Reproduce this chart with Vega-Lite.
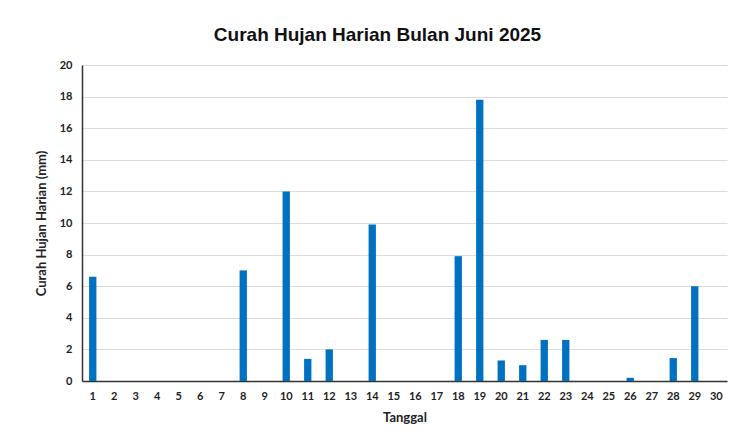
{
  "$schema": "https://vega.github.io/schema/vega-lite/v6.json",
  "autosize": {"type": "none"},
  "width": 645,
  "height": 316,
  "padding": {"left": 82, "top": 65, "right": 5, "bottom": 58},
  "background": "white",
  "title": {
    "text": "Curah Hujan Harian Bulan Juni 2025",
    "font": "Liberation Sans",
    "fontSize": 19,
    "fontWeight": "bold",
    "color": "#111111",
    "anchor": "middle",
    "dx": -27,
    "offset": 14
  },
  "data": {
    "values": [
      {"tanggal": 1, "hujan": 6.6},
      {"tanggal": 2, "hujan": 0},
      {"tanggal": 3, "hujan": 0},
      {"tanggal": 4, "hujan": 0},
      {"tanggal": 5, "hujan": 0},
      {"tanggal": 6, "hujan": 0},
      {"tanggal": 7, "hujan": 0},
      {"tanggal": 8, "hujan": 7.0},
      {"tanggal": 9, "hujan": 0},
      {"tanggal": 10, "hujan": 12.0},
      {"tanggal": 11, "hujan": 1.4},
      {"tanggal": 12, "hujan": 2.0},
      {"tanggal": 13, "hujan": 0},
      {"tanggal": 14, "hujan": 9.9},
      {"tanggal": 15, "hujan": 0},
      {"tanggal": 16, "hujan": 0},
      {"tanggal": 17, "hujan": 0},
      {"tanggal": 18, "hujan": 7.9},
      {"tanggal": 19, "hujan": 17.8},
      {"tanggal": 20, "hujan": 1.3},
      {"tanggal": 21, "hujan": 1.0},
      {"tanggal": 22, "hujan": 2.6},
      {"tanggal": 23, "hujan": 2.6},
      {"tanggal": 24, "hujan": 0},
      {"tanggal": 25, "hujan": 0},
      {"tanggal": 26, "hujan": 0.2},
      {"tanggal": 27, "hujan": 0},
      {"tanggal": 28, "hujan": 1.45},
      {"tanggal": 29, "hujan": 6.0},
      {"tanggal": 30, "hujan": 0}
    ]
  },
  "mark": {"type": "bar", "color": "#0070C0"},
  "encoding": {
    "x": {
      "field": "tanggal",
      "type": "ordinal",
      "scale": {"paddingInner": 0.66, "paddingOuter": 0.33},
      "axis": {
        "title": "Tanggal",
        "labelAngle": 0,
        "labelFont": "Lato",
        "labelFontSize": 11,
        "labelFontWeight": "bold",
        "labelColor": "#222222",
        "labelPadding": 9,
        "ticks": false,
        "domainColor": "#333333",
        "domainWidth": 1.5,
        "titleFont": "Lato",
        "titleFontSize": 13,
        "titleFontWeight": "bold",
        "titleColor": "#222222",
        "titlePadding": 10,
        "grid": false
      }
    },
    "y": {
      "field": "hujan",
      "type": "quantitative",
      "scale": {"domain": [0, 20]},
      "axis": {
        "title": "Curah Hujan Harian (mm)",
        "values": [0, 2, 4, 6, 8, 10, 12, 14, 16, 18, 20],
        "labelFont": "Lato",
        "labelFontSize": 11,
        "labelFontWeight": "bold",
        "labelColor": "#222222",
        "labelPadding": 10,
        "ticks": false,
        "domainColor": "#333333",
        "domainWidth": 1.5,
        "gridColor": "#dcdcdc",
        "gridWidth": 1,
        "titleFont": "Lato",
        "titleFontSize": 13,
        "titleFontWeight": "bold",
        "titleColor": "#222222",
        "titlePadding": 11
      }
    }
  },
  "config": {"view": {"stroke": null}}
}
